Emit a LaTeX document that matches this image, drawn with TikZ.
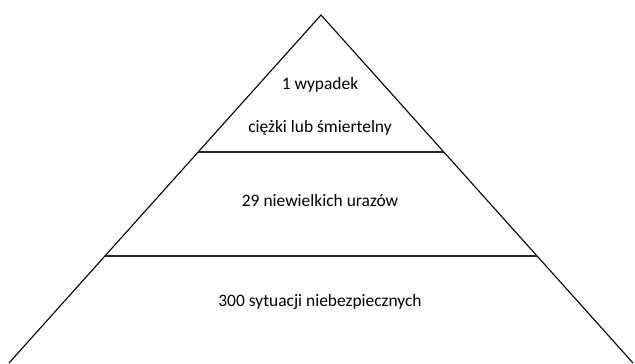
\documentclass[tikz,border=0pt]{standalone}
\usepackage{fontspec}
\setmainfont{Carlito}
\usetikzlibrary{calc}
\tikzset{
  edge/.style={line width=1.1pt},
  level/.style={line width=1.2pt, black!85},
  lbl/.style={font=\fontsize{17.5}{21}\selectfont, inner sep=0pt}
}
\begin{document}
\begin{tikzpicture}[x=1bp,y=-1bp]
  \useasboundingbox (0,0) rectangle (635,363);
  \coordinate (apex) at (321,15);
  \coordinate (baseL) at (9,363);
  \coordinate (baseR) at (633,363);
  \draw[edge] (baseL) -- (apex) -- (baseR);
  % levels
  \draw[level] ($(apex)!0.3937!(baseL)$) -- ($(apex)!0.3937!(baseR)$);
  \draw[level] ($(apex)!0.6925!(baseL)$) -- ($(apex)!0.6925!(baseR)$);
  \node[lbl] (top1) at (320,85) {1 wypadek};
  \node[lbl] (top2) at (320,128) {ciężki lub śmiertelny};
  \node[lbl] (mid) at (320,201) {29 niewielkich urazów};
  \node[lbl] (bottom) at (320,302) {300 sytuacji niebezpiecznych};
\end{tikzpicture}
\end{document}
